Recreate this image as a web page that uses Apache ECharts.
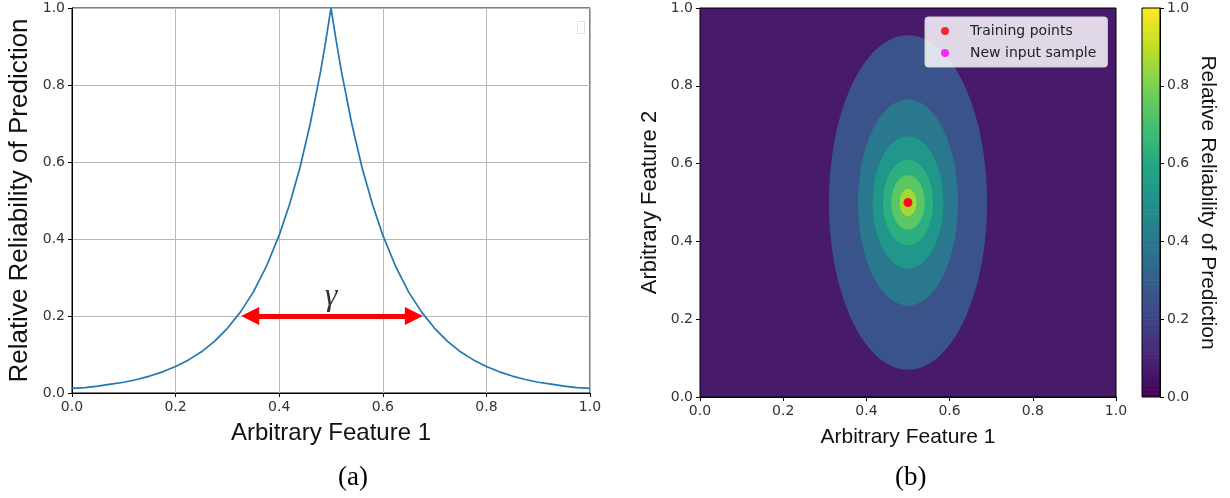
<!DOCTYPE html>
<html><head><meta charset="utf-8">
<script src="https://cdn.jsdelivr.net/npm/echarts@6/dist/echarts.min.js"></script>
<style>html,body{margin:0;padding:0;background:#fff}#c{width:1230px;height:498px}</style>
</head><body><div id="c"></div>
<script>
// ---- Panel (a): reliability curve ----
const curveX = [0, 0.025, 0.05, 0.075, 0.1, 0.125, 0.15, 0.175, 0.2, 0.225, 0.25, 0.275, 0.3, 0.325, 0.35, 0.375, 0.4, 0.42, 0.44, 0.46, 0.48, 0.49, 0.5,
                0.51, 0.52, 0.54, 0.56, 0.58, 0.6, 0.625, 0.65, 0.675, 0.7, 0.725, 0.75, 0.775, 0.8, 0.825, 0.85, 0.875, 0.9, 0.925, 0.95, 0.975, 1.0];
const curveY = [0.012, 0.014, 0.018, 0.023, 0.028, 0.035, 0.044, 0.055, 0.069, 0.086, 0.107, 0.134, 0.168, 0.210, 0.262, 0.328, 0.410, 0.490, 0.585, 0.700, 0.836, 0.915, 1.0,
                0.915, 0.836, 0.700, 0.585, 0.490, 0.410, 0.328, 0.262, 0.210, 0.168, 0.134, 0.107, 0.086, 0.069, 0.055, 0.044, 0.035, 0.028, 0.023, 0.018, 0.014, 0.012];
const arrowX = [0.344, 0.66];
const arrowY = 0.2;
const gammaPos = [0.5, 0.25];
const gammaText = 'γ';
const tickInterval = 0.2;

// ---- Panel (b): contour rings of reliability ----
const ringCenter = [0.5, 0.5];
const backgroundValue = 0.07;
const ringValues = [0.26, 0.40, 0.52, 0.63, 0.74, 0.86];
const ringRx = [0.19, 0.12, 0.085, 0.06, 0.04, 0.02];
const ringRy = [0.43, 0.265, 0.17, 0.11, 0.07, 0.035];
const trainingPoints = [[0.5, 0.5]];
const newInputSamples = [[0.5, 0.5]];
const viridis = ['#440154', '#482475', '#414487', '#355f8d', '#2a788e', '#21918c', '#22a884', '#44bf70', '#7ad151', '#bddf26', '#fde725'];

const seriesXY = curveX.map((x, i) => [x, curveY[i]]);
const ringData = ringValues.map((v, i) => [ringCenter[0], ringCenter[1], ringRx[i], ringRy[i], v]);
const colorbarData = [];
for (let k = 0; k < 100; k++) colorbarData.push([0, k / 100, 1, (k + 1) / 100, (k + 0.5) / 100]);

const fmt = v => v.toFixed(1);
const tickFont = 'DejaVu Sans';
const titleFont = 'Liberation Sans';

function valueAxis(gridIndex, extra) {
  return Object.assign({
    type: 'value', gridIndex, min: 0, max: 1, interval: tickInterval,
    axisLine: { show: true, onZero: false, lineStyle: { color: '#000', width: 1 } },
    axisTick: { show: true, inside: false, length: 4, lineStyle: { color: '#000' } },
    axisLabel: { fontSize: 14, color: '#333', fontFamily: tickFont, margin: 7, formatter: fmt },
    splitLine: { show: false },
    nameLocation: 'middle',
    nameTextStyle: { fontFamily: titleFont, color: '#111' }
  }, extra);
}

function renderRect(params, api) {
  const p0 = api.coord([api.value(0), api.value(1)]);
  const p1 = api.coord([api.value(2), api.value(3)]);
  return {
    type: 'rect',
    shape: { x: Math.min(p0[0], p1[0]), y: Math.min(p0[1], p1[1]), width: Math.abs(p1[0] - p0[0]), height: Math.abs(p1[1] - p0[1]) + 0.6 },
    style: { fill: api.visual('color') }
  };
}
function renderRing(params, api) {
  const cx = api.value(0), cy = api.value(1), rx = api.value(2), ry = api.value(3);
  const pts = [];
  for (let k = 0; k < 120; k++) {
    const t = 2 * Math.PI * k / 120;
    pts.push(api.coord([cx + rx * Math.cos(t), cy + ry * Math.sin(t)]));
  }
  return { type: 'polygon', shape: { points: pts }, style: { fill: api.visual('color') } };
}

const chart = echarts.init(document.getElementById('c'), null, { renderer: 'canvas' });
chart.setOption({
  animation: false,
  backgroundColor: '#fff',
  grid: [
    { left: 72, top: 8, width: 518, height: 385, show: true, borderColor: '#000', borderWidth: 1 },
    { left: 700, top: 8, width: 416, height: 389, show: true, borderColor: '#000', borderWidth: 1, z: 10 },
    { left: 1142, top: 8, width: 18, height: 389, show: true, borderColor: '#000', borderWidth: 1, z: 10 }
  ],
  xAxis: [
    valueAxis(0, { name: 'Arbitrary Feature 1', nameGap: 28, nameTextStyle: { fontFamily: titleFont, fontSize: 24, color: '#111' },
      splitLine: { show: true, lineStyle: { color: '#b8b8b8', width: 1 } } }),
    valueAxis(1, { name: 'Arbitrary Feature 1', nameGap: 30, nameTextStyle: { fontFamily: titleFont, fontSize: 21, color: '#111' } }),
    { type: 'value', gridIndex: 2, min: 0, max: 1, show: false }
  ],
  yAxis: [
    valueAxis(0, { name: 'Relative Reliability of Prediction', nameGap: 39, nameTextStyle: { fontFamily: titleFont, fontSize: 26, color: '#111' },
      splitLine: { show: true, lineStyle: { color: '#b8b8b8', width: 1 } } }),
    valueAxis(1, { name: 'Arbitrary Feature 2', nameGap: 39, nameTextStyle: { fontFamily: titleFont, fontSize: 22, color: '#111' } }),
    valueAxis(2, { position: 'right', name: 'Relative Reliability of Prediction', nameGap: 37, nameRotate: -90,
      nameTextStyle: { fontFamily: titleFont, fontSize: 21, color: '#111' }, axisLabel: { fontSize: 14, color: '#333', fontFamily: tickFont, margin: 7, formatter: fmt } })
  ],
  visualMap: {
    type: 'continuous', show: false, min: 0, max: 1, dimension: 4, seriesIndex: [2, 3, 6],
    inRange: { color: viridis }
  },
  legend: {
    data: ['Training points', 'New input sample'],
    orient: 'vertical', left: 925, top: 17,
    icon: 'circle', itemWidth: 30, itemHeight: 8, itemGap: 8,
    padding: [7, 11, 7, 16],
    backgroundColor: 'rgba(255,255,255,0.83)', borderColor: '#d0d0d0', borderWidth: 1, borderRadius: 3,
    textStyle: { fontSize: 14, fontFamily: tickFont, color: '#222', padding: [0, 0, 0, 5] },
    selectedMode: false, z: 20
  },
  series: [
    {
      type: 'line', xAxisIndex: 0, yAxisIndex: 0, data: seriesXY, showSymbol: false, symbol: 'none',
      lineStyle: { color: '#1f77b4', width: 1.7 }, z: 3,
      markLine: {
        silent: true, symbol: ['triangle', 'triangle'], symbolSize: [18, 18],
        label: { show: false },
        lineStyle: { color: '#ff0000', width: 5, type: 'solid' },
        itemStyle: { color: '#ff0000' },
        data: [[{ coord: [arrowX[0], arrowY] }, { coord: [arrowX[1], arrowY] }]]
      }
    },
    {
      type: 'scatter', xAxisIndex: 0, yAxisIndex: 0, data: [gammaPos], symbolSize: 1,
      itemStyle: { color: 'rgba(0,0,0,0)' }, silent: true,
      label: { show: true, position: 'inside', formatter: gammaText, fontSize: 32, fontStyle: 'italic', fontFamily: 'Liberation Serif', color: '#000' }
    },
    {
      type: 'custom', xAxisIndex: 1, yAxisIndex: 1, data: [[0, 0, 1, 1, backgroundValue]], renderItem: renderRect, clip: true, silent: true, z: 1
    },
    {
      type: 'custom', xAxisIndex: 1, yAxisIndex: 1, data: ringData, renderItem: renderRing, clip: true, silent: true, z: 2
    },
    {
      name: 'Training points', type: 'scatter', xAxisIndex: 1, yAxisIndex: 1, data: trainingPoints,
      symbol: 'circle', symbolSize: 9, itemStyle: { color: '#ff0000' }, z: 6
    },
    {
      name: 'New input sample', type: 'scatter', xAxisIndex: 1, yAxisIndex: 1, data: newInputSamples,
      symbol: 'circle', symbolSize: 8, itemStyle: { color: '#ff00ff' }, z: 5
    },
    {
      type: 'custom', xAxisIndex: 2, yAxisIndex: 2, data: colorbarData, renderItem: renderRect, clip: true, silent: true, progressive: 0
    }
  ],
  graphic: [
    { type: 'rect', left: 575, top: 19, shape: { width: 7, height: 12 }, style: { fill: 'none', stroke: '#e2e2e2', lineWidth: 1 } },
    { type: 'text', left: 338, top: 464, style: { text: '(a)', font: '27px "Liberation Serif"', fill: '#000' } },
    { type: 'text', left: 895, top: 464, style: { text: '(b)', font: '27px "Liberation Serif"', fill: '#000' } }
  ]
});
</script>
</body></html>
